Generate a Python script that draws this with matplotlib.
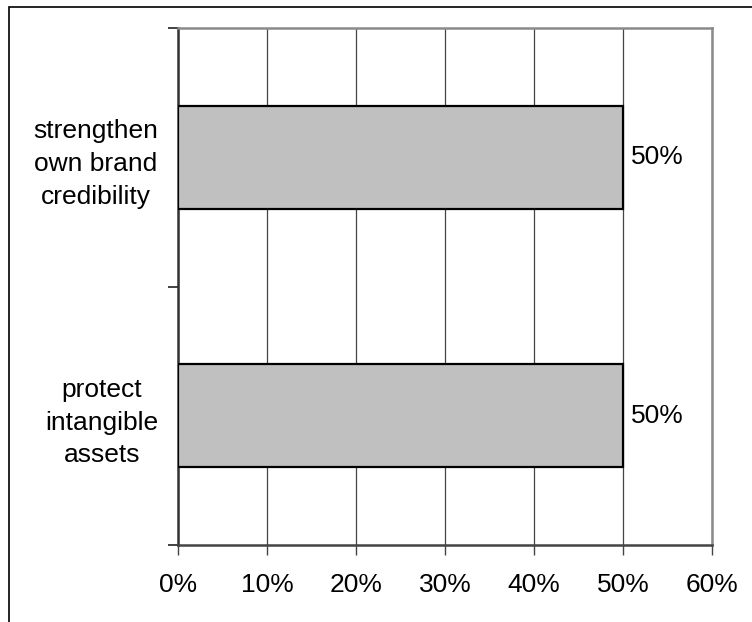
import matplotlib
matplotlib.use("Agg")
import matplotlib.pyplot as plt
from matplotlib.patches import Rectangle
from matplotlib.ticker import FixedLocator, FuncFormatter

categories = ["protect\nintangible\nassets", "strengthen\nown brand\ncredibility"]
values = [50, 50]
x_ticks = [0, 10, 20, 30, 40, 50, 60]

plt.rcParams["font.family"] = ["Liberation Sans", "DejaVu Sans"]

fig = plt.figure(figsize=(7.52, 6.22), dpi=100)
ax = fig.add_axes([178 / 752, 1 - 545 / 622, (712 - 178) / 752, (545 - 28) / 622])

# outer chart frame
fig.patches.append(Rectangle((9 / 752, -0.1), 1.2, 1 - 7 / 622 + 0.1,
                             transform=fig.transFigure, fill=False,
                             edgecolor="black", linewidth=1.2, zorder=0))

pos = list(range(len(categories)))
bars = ax.barh(pos, values, height=0.4, color="#c0c0c0",
               edgecolor="black", linewidth=1.6, zorder=3)

for p, v in zip(pos, values):
    ax.text(v + 0.9, p, f"{v}%", va="center", ha="left", fontsize=19)

ax.set_xlim(0, 60)
ax.set_ylim(-0.5, len(categories) - 0.5)
ax.xaxis.set_major_locator(FixedLocator(x_ticks))
ax.xaxis.set_major_formatter(FuncFormatter(lambda v, _: f"{v:.0f}%"))
ax.grid(axis="x", color="#444444", linewidth=0.9, zorder=1)

# category boundaries carry tick marks; names sit between them
ax.set_yticks([p - 0.5 for p in pos] + [pos[-1] + 0.5])
ax.set_yticklabels([])
ax.set_yticks(pos, minor=True)
ax.set_yticklabels(categories, minor=True, fontsize=19,
                   multialignment="center", linespacing=1.45)
ax.tick_params(axis="y", which="minor", length=0, pad=14)
ax.tick_params(axis="y", which="major", length=7, width=1.2, color="#222222")
ax.tick_params(axis="x", length=7, width=1.0, color="#444444", labelsize=19, pad=13)

ax.spines["left"].set_color("#333333")
ax.spines["left"].set_linewidth(1.8)
ax.spines["bottom"].set_color("#444444")
ax.spines["bottom"].set_linewidth(1.8)
for s in ("top", "right"):
    ax.spines[s].set_color("#8a8a8a")
    ax.spines[s].set_linewidth(1.8)

fig.savefig("out.png", dpi=100)
